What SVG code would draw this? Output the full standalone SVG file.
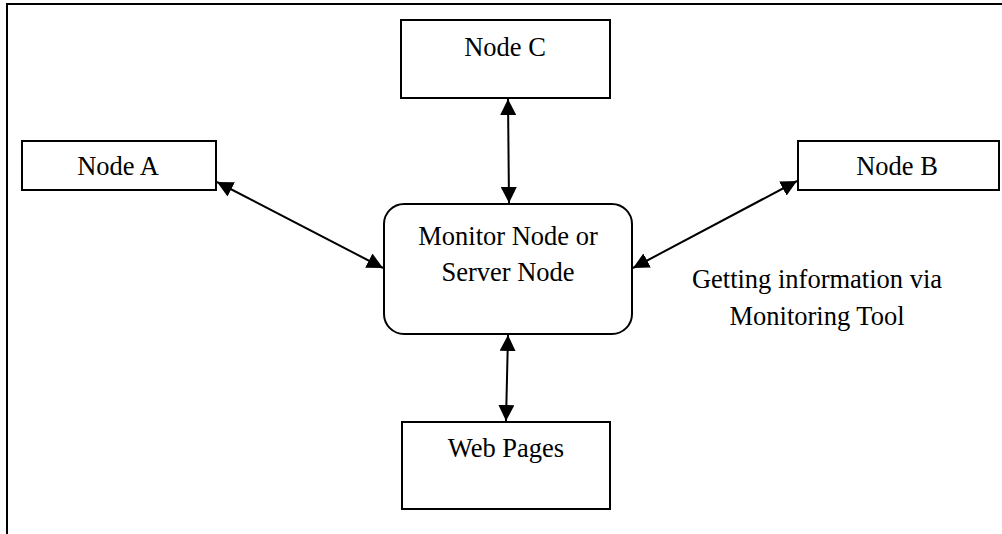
<svg xmlns="http://www.w3.org/2000/svg" width="1002" height="534" viewBox="0 0 1002 534">
<style>
.box{fill:#fff;stroke:#000;stroke-width:2}
.t{font-family:"Liberation Serif","Times New Roman",serif;font-size:26.5px;fill:#000;text-anchor:middle}
.c{stroke:#000;stroke-width:2;fill:none;marker-start:url(#ah);marker-end:url(#ah)}
</style>
<defs>
<marker id="ah" viewBox="0 0 10 10" refX="10" refY="5" markerWidth="8" markerHeight="8" orient="auto-start-reverse" markerUnits="strokeWidth">
<path d="M0,0 L10,5 L0,10 z" fill="#000"/>
</marker>
</defs>
<g id="frame" stroke="#000" stroke-width="2" fill="none">
<path d="M7,534 V4 H1002"/>
</g>
<g id="nodeC"><rect class="box" x="401" y="20" width="209" height="78"/><text class="t" x="505" y="56">Node C</text></g>
<g id="nodeA"><rect class="box" x="22" y="141" width="194" height="49"/><text class="t" x="118" y="175">Node A</text></g>
<g id="nodeB"><rect class="box" x="798" y="141" width="201" height="49"/><text class="t" x="897" y="175">Node B</text></g>
<g id="monitor"><rect class="box" x="384" y="204" width="248" height="130" rx="20" ry="20"/><text class="t" x="508" y="245">Monitor Node or</text><text class="t" x="508" y="281">Server Node</text></g>
<g id="web"><rect class="box" x="402" y="422" width="208" height="87"/><text class="t" x="506" y="457">Web Pages</text></g>
<g id="label"><text class="t" x="817" y="288">Getting information via</text><text class="t" x="817" y="325">Monitoring Tool</text></g>
<g id="connectors">
<path class="c" d="M508,99 L509,203"/>
<path class="c" d="M217,182 L383,268"/>
<path class="c" d="M797,181 L633,268"/>
<path class="c" d="M508,335 L506,421"/>
</g>
</svg>
